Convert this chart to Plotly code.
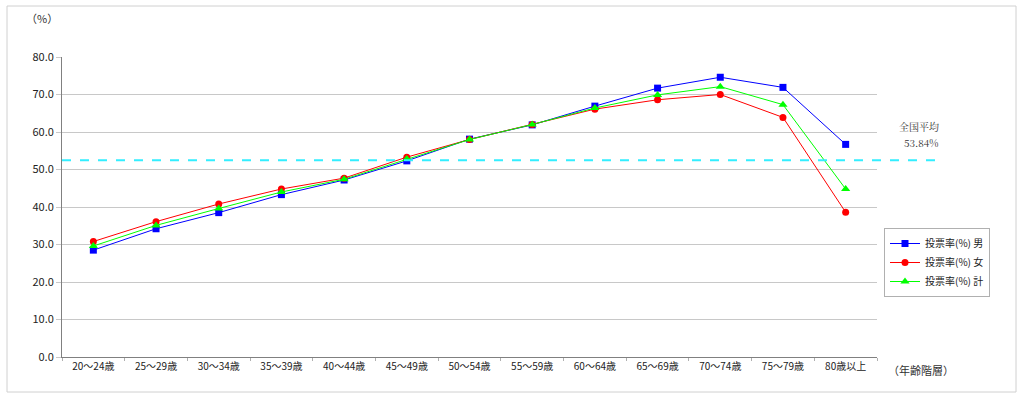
import plotly.graph_objects as go

categories = ["20～24歳", "25～29歳", "30～34歳", "35～39歳", "40～44歳", "45～49歳",
              "50～54歳", "55～59歳", "60～64歳", "65～69歳", "70～74歳", "75～79歳", "80歳以上"]
male = [28.5, 34.2, 38.5, 43.3, 47.2, 52.3, 58.1, 61.9, 66.9, 71.7, 74.6, 71.9, 56.7]
female = [30.8, 36.1, 40.8, 44.8, 47.7, 53.3, 58.0, 62.0, 66.1, 68.6, 70.0, 63.9, 38.6]
total = [29.6, 35.1, 39.6, 44.0, 47.4, 52.8, 58.0, 62.0, 66.4, 69.9, 72.1, 67.3, 44.8]
national_avg = 52.5
yticks = [0, 10, 20, 30, 40, 50, 60, 70, 80]

W, H = 1024, 399
L, R, T, B = 62, 147, 57, 42
pw, ph = W - L - R, H - T - B


def px(x):
    return (x - L) / pw


def py(y):
    return (H - B - y) / ph


font = "Noto Sans CJK JP"
fig = go.Figure()
fig.add_trace(go.Scatter(x=categories, y=male, name="投票率(%) 男", mode="lines+markers",
                         line=dict(color="#0000FF", width=1),
                         marker=dict(symbol="square", size=7, color="#0000FF")))
fig.add_trace(go.Scatter(x=categories, y=female, name="投票率(%) 女", mode="lines+markers",
                         line=dict(color="#FF0000", width=1),
                         marker=dict(symbol="circle", size=7, color="#FF0000")))
fig.add_trace(go.Scatter(x=categories, y=total, name="投票率(%) 計", mode="lines+markers",
                         line=dict(color="#00FF00", width=1),
                         marker=dict(symbol="triangle-up", size=8, color="#00FF00")))

shapes = [
    dict(type="line", xref="paper", yref="y", x0=0, x1=px(943), y0=national_avg, y1=national_avg,
         line=dict(color="#33EEFF", width=2, dash="dash"), layer="above"),
    dict(type="rect", xref="paper", yref="paper", x0=px(7), x1=px(1016), y0=py(392), y1=py(6),
         line=dict(color="#D0D0D0", width=1), layer="below"),
]
annotations = [
    dict(text="（%）", xref="paper", yref="paper", x=px(42), y=py(18), showarrow=False,
         font=dict(size=11, color="#333"), xanchor="center", yanchor="middle"),
    dict(text="（年齢階層）", xref="paper", yref="paper", x=px(921), y=py(370), showarrow=False,
         font=dict(size=11, color="#333"), xanchor="center", yanchor="middle"),
    dict(text="全国平均", xref="paper", yref="paper", x=px(897), y=py(127), showarrow=False,
         font=dict(size=10, color="#333", family="Noto Serif CJK JP, serif"), xanchor="left", yanchor="middle"),
    dict(text="53.84%", xref="paper", yref="paper", x=px(941), y=py(142), showarrow=False,
         font=dict(size=10, color="#333", family="Noto Serif CJK JP, serif"), xanchor="right", yanchor="middle"),
]

fig.update_layout(
    width=W, height=H,
    margin=dict(l=L, r=R, t=T, b=B),
    paper_bgcolor="white", plot_bgcolor="white",
    font=dict(family=font, size=10, color="#222"),
    shapes=shapes, annotations=annotations,
    legend=dict(x=px(884), y=py(228), xanchor="left", yanchor="top",
                bordercolor="#B0B0B0", borderwidth=1, bgcolor="white",
                font=dict(size=10, color="#222"), tracegroupgap=4),
    showlegend=True,
)
fig.update_xaxes(type="category", range=[-0.5, 12.5], showgrid=False,
                 showline=True, linecolor="#808080", linewidth=1,
                 ticks="outside", ticklen=3, tickcolor="#B0B0B0", tickson="boundaries",
                 tickfont=dict(size=10, color="#222"))
fig.update_yaxes(range=[0, 80], tickvals=yticks, ticktext=[f"{v:.1f}" for v in yticks],
                 showgrid=True, gridcolor="#C8C8C8", gridwidth=1,
                 showline=True, linecolor="#808080", linewidth=1,
                 ticks="outside", ticklen=5, tickcolor="#C8C8C8",
                 zeroline=False, tickfont=dict(size=11, color="#222"))

fig.write_html("out.html")
